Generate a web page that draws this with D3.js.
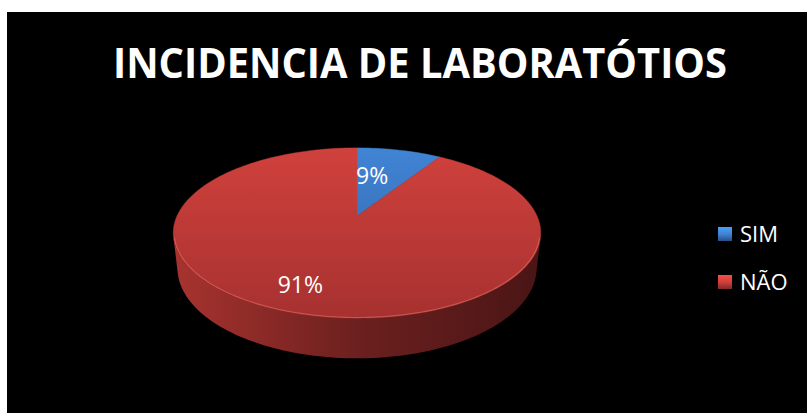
<!DOCTYPE html>
<html>
<head>
<meta charset="utf-8">
<script src="https://cdn.jsdelivr.net/npm/d3@7"></script>
<style>
  html, body { margin: 0; padding: 0; background: #fff; }
  svg { display: block; }
</style>
</head>
<body>
<svg id="chart" width="807" height="413"></svg>
<script>
// data
const title = 'INCIDENCIA DE LABORATÓTIOS';
const categories = ['SIM', 'NÃO'];
const values = [9, 91];
const labels = ['9%', '91%'];

const width = 807, height = 413;
const svg = d3.select('#chart');

// perspective setup for the 3d pie (radius units)
const cx = 357, cy = 216, k = 180;
const tilt = 27 * Math.PI / 180, sn = Math.sin(tilt), cs = Math.cos(tilt);
const dist = 4.45, depth = 0.22;

function project(X, Y, Z) {
  let sy = Z * sn - Y * cs,
      d = Z * cs + Y * sn,
      f = dist / (dist - d);
  return [cx + k * X * f, cy + k * sy * f];
}
const rim = (a, r, Y) => project(r * Math.sin(a), Y, -r * Math.cos(a));

const topColor = d3.scaleOrdinal().domain(categories).range([['#4084d4', '#3262a6'], ['#d0413c', '#a63130']]);
const sideColor = d3.scaleOrdinal().domain(categories).range([['#2f5f9c', '#1c3a62'], ['#a8332f', '#6c201f', '#4a1515']]);

// background
svg.append('rect')
  .attr('x', 7).attr('y', 12)
  .attr('width', width - 7).attr('height', height - 12)
  .attr('fill', '#000');

let defs = svg.append('defs');
categories.forEach((c, i) => {
  let g = defs.append('linearGradient')
    .attr('id', 'top' + i)
    .attr('gradientUnits', 'userSpaceOnUse')
    .attr('x1', 0).attr('x2', 0).attr('y1', 148).attr('y2', 320);
  topColor(c).forEach((col, j, arr) => g.append('stop').attr('offset', j / (arr.length - 1)).attr('stop-color', col));

  let s = defs.append('linearGradient')
    .attr('id', 'side' + i)
    .attr('gradientUnits', 'userSpaceOnUse')
    .attr('x1', 173).attr('x2', 541).attr('y1', 0).attr('y2', 0);
  sideColor(c).forEach((col, j, arr) => s.append('stop').attr('offset', j / (arr.length - 1)).attr('stop-color', col));

  let l = defs.append('linearGradient')
    .attr('id', 'leg' + i)
    .attr('x1', 0).attr('x2', 0).attr('y1', 0).attr('y2', 1);
  l.append('stop').attr('offset', 0).attr('stop-color', d3.color(topColor(c)[0]).brighter(0.5));
  l.append('stop').attr('offset', 0.5).attr('stop-color', topColor(c)[0]);
  l.append('stop').attr('offset', 1).attr('stop-color', d3.color(topColor(c)[1]).darker(0.6));
});

const arcs = d3.pie().sort(null).startAngle(0).endAngle(2 * Math.PI)(values);
const line = d3.line();
const steps = a => d3.range(0, 1.0001, 1 / Math.max(2, Math.ceil(a * 40)));

let pie = svg.append('g').attr('class', 'pie');

// side walls (only the front facing part)
const vis0 = Math.acos(-1 / (dist * cs)), vis1 = 2 * Math.PI - vis0;
arcs.forEach((a, i) => {
  let a0 = Math.max(a.startAngle, vis0), a1 = Math.min(a.endAngle, vis1);
  if (a1 <= a0) return;
  let ts = steps(a1 - a0).map(t => a0 + t * (a1 - a0));
  let pts = ts.map(t => rim(t, 1, 0)).concat(ts.slice().reverse().map(t => rim(t, 1, -depth)));
  pie.append('path')
    .attr('d', line(pts) + 'Z')
    .attr('fill', `url(#side${i})`);
});

// top faces
arcs.forEach((a, i) => {
  let span = a.endAngle - a.startAngle;
  let pts = [project(0, 0, 0)].concat(steps(span).map(t => rim(a.startAngle + t * span, 1, 0)));
  pie.append('path')
    .attr('d', line(pts) + 'Z')
    .attr('fill', `url(#top${i})`)
    .attr('stroke', `url(#top${i})`)
    .attr('stroke-width', 0.5);
});

// light bevel on the front rim
{
  let ts = steps(vis1 - vis0).map(t => vis0 + t * (vis1 - vis0));
  pie.append('path')
    .attr('d', line(ts.map(t => rim(t, 0.995, 0))))
    .attr('fill', 'none')
    .attr('stroke', '#e8706a')
    .attr('stroke-opacity', 0.55)
    .attr('stroke-width', 1.2);
}

// data labels (angle as share of slice, radius as share of pie)
const labelAt = [[0.3, 0.55], [0.513, 0.77]];
arcs.forEach((a, i) => {
  let ang = a.startAngle + labelAt[i][0] * (a.endAngle - a.startAngle);
  let p = rim(ang, labelAt[i][1], 0);
  svg.append('text')
    .attr('x', p[0]).attr('y', p[1])
    .attr('dy', '0.35em')
    .attr('text-anchor', 'middle')
    .attr('font-family', '"Open Sans", sans-serif')
    .attr('font-size', 23)
    .attr('fill', '#fff')
    .text(labels[i]);
});

// title
svg.append('text')
  .attr('x', 420).attr('y', 78)
  .attr('text-anchor', 'middle')
  .attr('font-family', '"Open Sans", sans-serif')
  .attr('font-weight', 'bold')
  .attr('font-size', 42)
  .attr('textLength', 614)
  .attr('lengthAdjust', 'spacingAndGlyphs')
  .attr('fill', '#fff')
  .text(title);

// legend
const ly = d3.scalePoint().domain(categories).range([234, 282]);
let legend = svg.append('g').selectAll('g').data(categories).enter().append('g')
  .attr('transform', d => `translate(718, ${ly(d)})`);
legend.append('rect')
  .attr('x', 0).attr('y', -7)
  .attr('width', 14).attr('height', 14)
  .attr('fill', (d, i) => `url(#leg${i})`);
legend.append('text')
  .attr('x', 22).attr('y', 0)
  .attr('dy', '0.36em')
  .attr('font-family', '"Open Sans", sans-serif')
  .attr('font-size', 22)
  .attr('fill', '#fff')
  .text(d => d);
</script>
</body>
</html>
